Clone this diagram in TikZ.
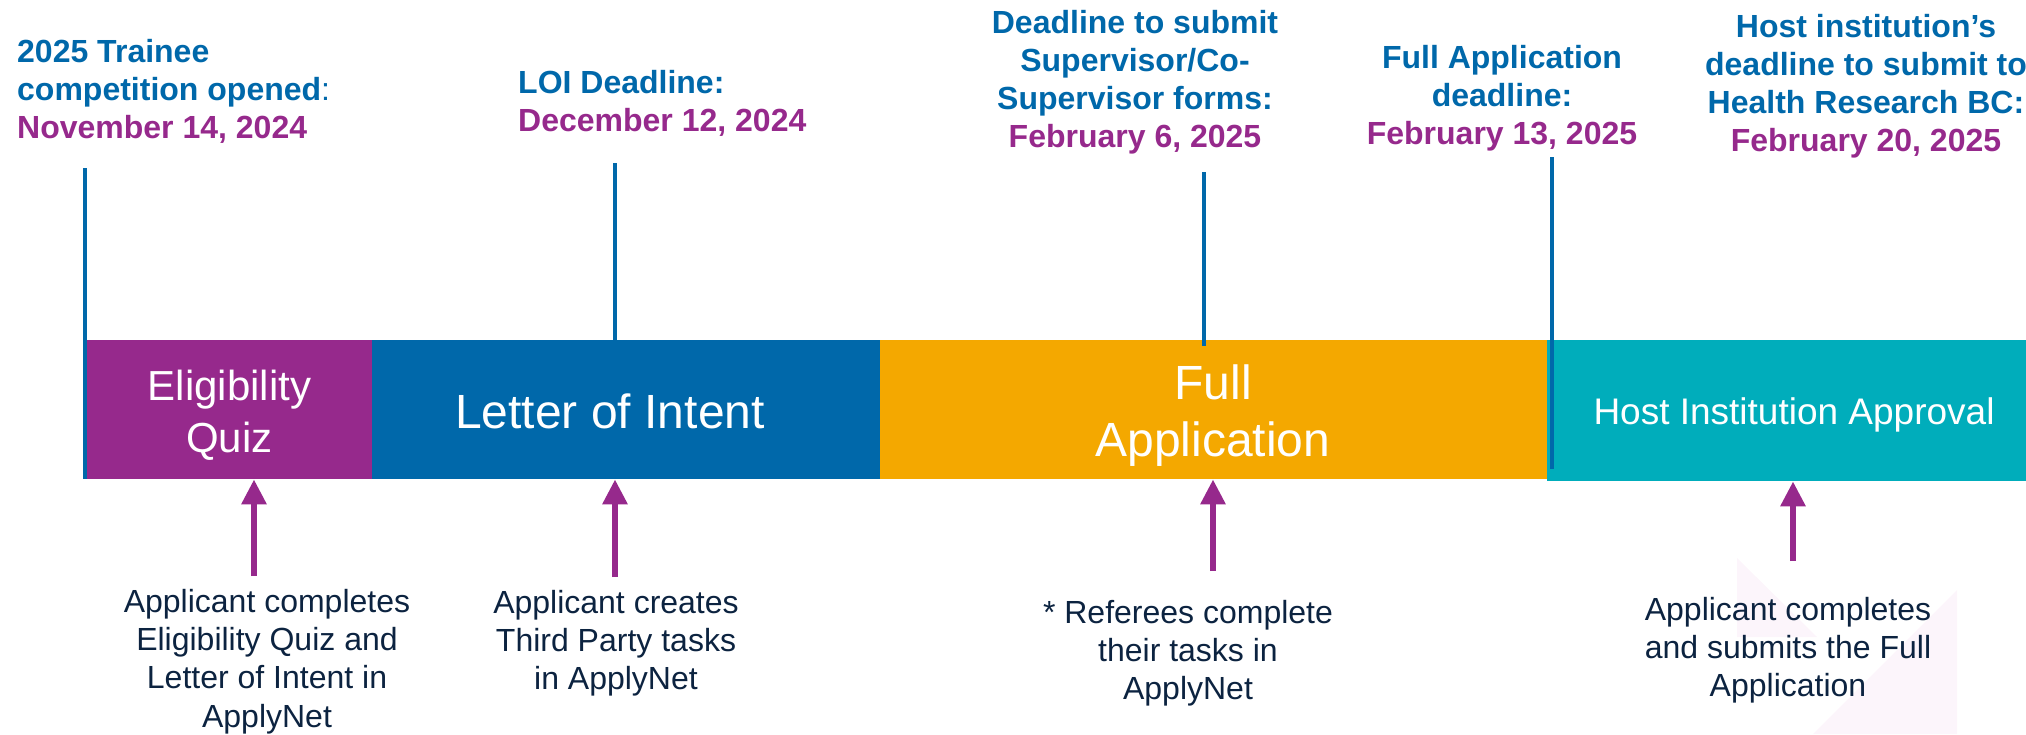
\documentclass[tikz,border=0pt]{standalone}
\usepackage{fontspec}
\setmainfont{Liberation Sans}
\usetikzlibrary{arrows.meta}
\definecolor{hblue}{RGB}{0,104,170}
\definecolor{hpurp}{RGB}{150,41,140}
\definecolor{horange}{RGB}{244,168,0}
\definecolor{hteal}{RGB}{0,173,187}
\definecolor{hnavy}{RGB}{12,35,64}
\definecolor{hfaint}{RGB}{252,245,251}
\tikzset{
  bar/.style={rectangle, inner sep=0pt, anchor=north west, draw=none},
  toplabel/.style={inner sep=0pt, anchor=north, align=center, text=hblue,
    font=\fontsize{32}{38.2}\selectfont\bfseries},
  barlabel/.style={inner sep=0pt, text=white},
  bottomlabel/.style={inner sep=0pt, anchor=north, align=center, text=hnavy,
    font=\fontsize{32}{38.3}\selectfont},
  vline/.style={draw=hblue, line width=3.5pt},
  parrow/.style={draw=hpurp, line width=6pt, -{Triangle[length=25pt,width=24pt]}},
}
\begin{document}
\begin{tikzpicture}[x=1pt,y=-1pt]
\useasboundingbox (0,0) rectangle (2026,734);

% faint background shapes
\fill[hfaint] (1737,558) -- (1737,637) -- (1817,637) -- cycle;
\fill[hfaint] (1957,590) -- (1957,734) -- (1813,734) -- cycle;

% bars
\node[bar, fill=hpurp, minimum width=285pt, minimum height=139pt] (elig) at (87,340) {};
\node[bar, fill=hblue, minimum width=508pt, minimum height=139pt] (loi) at (372,340) {};
\node[bar, fill=horange, minimum width=667pt, minimum height=139pt] (full) at (880,340) {};
\node[bar, fill=hteal, minimum width=485pt, minimum height=141pt] (host) at (1547,340) {};

% bar labels
\node[barlabel, anchor=north, align=center, font=\fontsize{42}{52}\selectfont] (eligtxt) at (229.5,370) {Eligibility\\Quiz};
\node[barlabel, anchor=base, font=\fontsize{48}{57}\selectfont] (loitxt) at (610,428) {Letter of Intent};
\node[barlabel, anchor=north, align=center, font=\fontsize{48}{57}\selectfont] (fulltxt) at (1213,364.6) {Full\\Application};
\node[barlabel, anchor=base, font=\fontsize{37}{44}\selectfont] (hosttxt) at (1794,424) {Host Institution Approval};

% top labels
\node[toplabel, anchor=north west, align=left] (lab1) at (17,39)
  {2025 Trainee\\competition opened{\mdseries:}\\\textcolor{hpurp}{November 14, 2024}};
\node[toplabel, anchor=north west, align=left] (lab2) at (518,70)
  {LOI Deadline:\\\textcolor{hpurp}{December 12, 2024}};
\node[toplabel] (lab3) at (1135,10)
  {Deadline to submit\\Supervisor/Co-\\Supervisor forms:\\\textcolor{hpurp}{February 6, 2025}};
\node[toplabel] (lab4) at (1502,45)
  {Full Application\\deadline:\\\textcolor{hpurp}{February 13, 2025}};
\node[toplabel] (lab5) at (1866,14)
  {Host institution’s\\deadline to submit to\\Health Research BC:\\\textcolor{hpurp}{February 20, 2025}};

% vertical milestone lines
\coordinate (v1) at (85,168);
\coordinate (v2) at (615,163);
\coordinate (v3) at (1204,172);
\coordinate (v3e) at (1204,346);
\coordinate (v4) at (1552,157);
\coordinate (v4e) at (1552,469);
\draw[vline] (v1) -- (v1 |- elig.south);
\draw[vline] (v2) -- (v2 |- loi.north);
\draw[vline] (v3) -- (v3e);
\draw[vline] (v4) -- (v4e);

% bottom labels
\node[bottomlabel] (b1) at (267,589)
  {Applicant completes\\Eligibility Quiz and\\Letter of Intent in\\ApplyNet};
\node[bottomlabel] (b2) at (616,590)
  {Applicant creates\\Third Party tasks\\in ApplyNet};
\node[bottomlabel] (b3) at (1188,600)
  {* Referees complete\\their tasks in\\ApplyNet};
\node[bottomlabel] (b4) at (1788,597)
  {Applicant completes\\and submits the Full\\Application};

% arrows
\coordinate (a1) at (254,576);
\coordinate (a2) at (615,577);
\coordinate (a3) at (1213,571);
\coordinate (a4) at (1793,561);
\draw[parrow] (a1) -- (a1 |- elig.south);
\draw[parrow] (a2) -- (a2 |- loi.south);
\draw[parrow] (a3) -- (a3 |- full.south);
\draw[parrow] (a4) -- (a4 |- host.south);
\end{tikzpicture}
\end{document}
